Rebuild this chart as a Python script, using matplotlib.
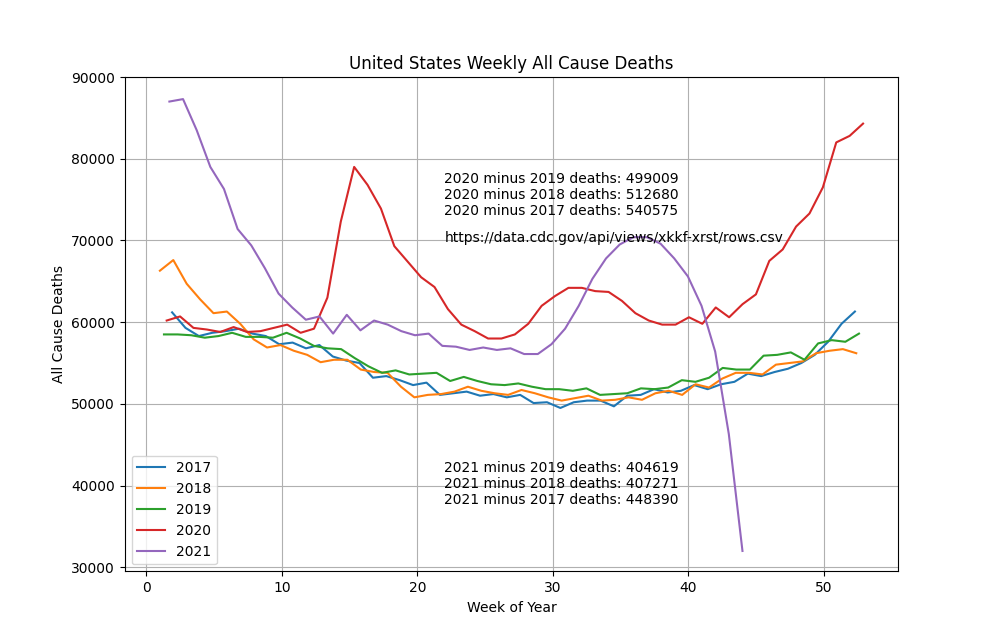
import numpy as np
import matplotlib
matplotlib.use("Agg")
import matplotlib.pyplot as plt

d2017 = [61200, 59300, 58300, 58700, 58900, 59200, 58600, 58300, 57300, 57500, 56800, 57200, 55800,
         55300, 55000, 53200, 53400, 52900, 52300, 52600, 51100, 51300, 51500, 51000, 51200, 50800,
         51100, 50100, 50200, 49500, 50200, 50400, 50400, 49700, 51000, 51100, 51800, 51400, 51600,
         52300, 51800, 52400, 52700, 53700, 53400, 53900, 54300, 55000, 56000, 57600, 59800, 61300]
d2018 = [66300, 67600, 64700, 62800, 61100, 61300, 59800, 57900, 56900, 57200, 56500, 56000, 55100,
         55400, 55400, 54200, 53900, 53800, 52100, 50800, 51100, 51200, 51500, 52100, 51600, 51300,
         51100, 51700, 51300, 50800, 50400, 50700, 51000, 50400, 50500, 50800, 50500, 51300, 51600,
         51100, 52400, 52000, 53100, 53800, 53800, 53600, 54800, 55000, 55200, 56200, 56500, 56700, 56200]
d2019 = [58500, 58500, 58400, 58100, 58300, 58700, 58200, 58200, 58100, 58700, 58000, 57100, 56800,
         56700, 55600, 54600, 53800, 54100, 53600, 53700, 53800, 52800, 53300, 52800, 52400, 52300,
         52500, 52100, 51800, 51800, 51600, 51900, 51100, 51200, 51300, 51900, 51800, 52000, 52900,
         52700, 53200, 54400, 54200, 54200, 55900, 56000, 56300, 55400, 57400, 57800, 57600, 58600]
d2020 = [60200, 60700, 59300, 59100, 58800, 59400, 58800, 58900, 59300, 59700, 58700, 59200, 63000,
         72300, 79000, 76800, 73900, 69300, 67400, 65500, 64300, 61600, 59700, 58900, 58000, 58000,
         58500, 59800, 62000, 63200, 64200, 64200, 63800, 63700, 62600, 61100, 60200, 59700, 59700,
         60600, 59800, 61800, 60600, 62200, 63400, 67500, 68900, 71700, 73300, 76500, 82000, 82800, 84300]
d2021 = [87000, 87300, 83500, 79000, 76300, 71400, 69400, 66600, 63500, 61800, 60300, 60700, 58600,
         60900, 59000, 60200, 59700, 58900, 58400, 58600, 57100, 57000, 56600, 56900, 56600, 56800,
         56100, 56100, 57300, 59200, 62000, 65300, 67800, 69500, 70400, 70400, 69600, 67800, 65600,
         62000, 56400, 46300, 32000]

series = [("2017", d2017, 1.9, 52.3), ("2018", d2018, 1.0, 52.4), ("2019", d2019, 1.3, 52.6),
          ("2020", d2020, 1.5, 52.9), ("2021", d2021, 1.7, 44.0)]

top_lines = ["2020 minus 2019 deaths: 499009",
             "2020 minus 2018 deaths: 512680",
             "2020 minus 2017 deaths: 540575"]
bottom_lines = ["2021 minus 2019 deaths: 404619",
                "2021 minus 2018 deaths: 407271",
                "2021 minus 2017 deaths: 448390"]

fig, ax = plt.subplots(figsize=(9.98, 6.42), dpi=100)
for name, vals, x0, x1 in series:
    ax.plot(np.linspace(x0, x1, len(vals)), vals, label=name)

ax.text(22, 78400, "\n".join(top_lines), va="top")
ax.text(22, 70300, "https://data.cdc.gov/api/views/xkkf-xrst/rows.csv", va="center")
ax.text(22, 43000, "\n".join(bottom_lines), va="top")

ax.set_title("United States Weekly All Cause Deaths")
ax.set_xlabel("Week of Year")
ax.set_ylabel("All Cause Deaths")
ax.set_ylim(29500, 90000)
ax.grid(True)
ax.legend(loc="lower left")
fig.savefig("out.png")
